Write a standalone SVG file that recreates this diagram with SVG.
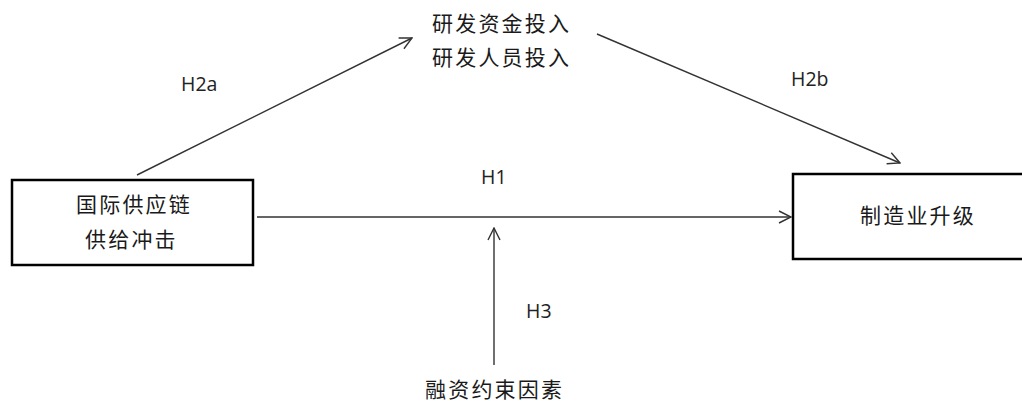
<svg xmlns="http://www.w3.org/2000/svg" width="1022" height="407" viewBox="0 0 1022 407">
<style>
.box{fill:#fff;stroke:#000;stroke-width:2.5}
.cn{font-family:"Noto Sans CJK SC","Noto Sans",sans-serif;font-size:21px;letter-spacing:2.2px;fill:#1a1a1a}
.lb{font-family:"Open Sans","Liberation Sans",sans-serif;font-size:19.5px;fill:#222}
.ln{stroke:#333;stroke-width:1.4;fill:none;marker-end:url(#ah)}
</style>
<defs>
<marker id="ah" viewBox="0 0 14 14" refX="13" refY="7" markerWidth="14" markerHeight="14" markerUnits="userSpaceOnUse" orient="auto">
<path d="M1,1 L13,7 L1,13" fill="none" stroke="#333" stroke-width="1.4"/>
</marker>
</defs>
<rect width="1022" height="407" fill="#fff"/>
<g id="connectors">
<line class="ln" x1="137" y1="175" x2="412" y2="38"/>
<line class="ln" x1="597" y1="34" x2="900" y2="163"/>
<line class="ln" x1="257" y1="217" x2="791" y2="217"/>
<line class="ln" x1="494" y1="365" x2="494" y2="228"/>
<text class="lb" x="181" y="91">H2a</text>
<text class="lb" x="791" y="86">H2b</text>
<text class="lb" x="481" y="184">H1</text>
<text class="lb" x="526" y="318">H3</text>
</g>
<g id="node-supply">
<rect class="box" x="12" y="180" width="241" height="85"/>
<text class="cn" x="76" y="212">国际供应链</text>
<text class="cn" x="85" y="247">供给冲击</text>
</g>
<g id="node-upgrade">
<rect class="box" x="793" y="174" width="240" height="85"/>
<text class="cn" x="860" y="223">制造业升级</text>
</g>
<g id="node-rd">
<text class="cn" x="432" y="31">研发资金投入</text>
<text class="cn" x="432" y="65">研发人员投入</text>
</g>
<g id="node-finance">
<text class="cn" x="425" y="397">融资约束因素</text>
</g>
</svg>
